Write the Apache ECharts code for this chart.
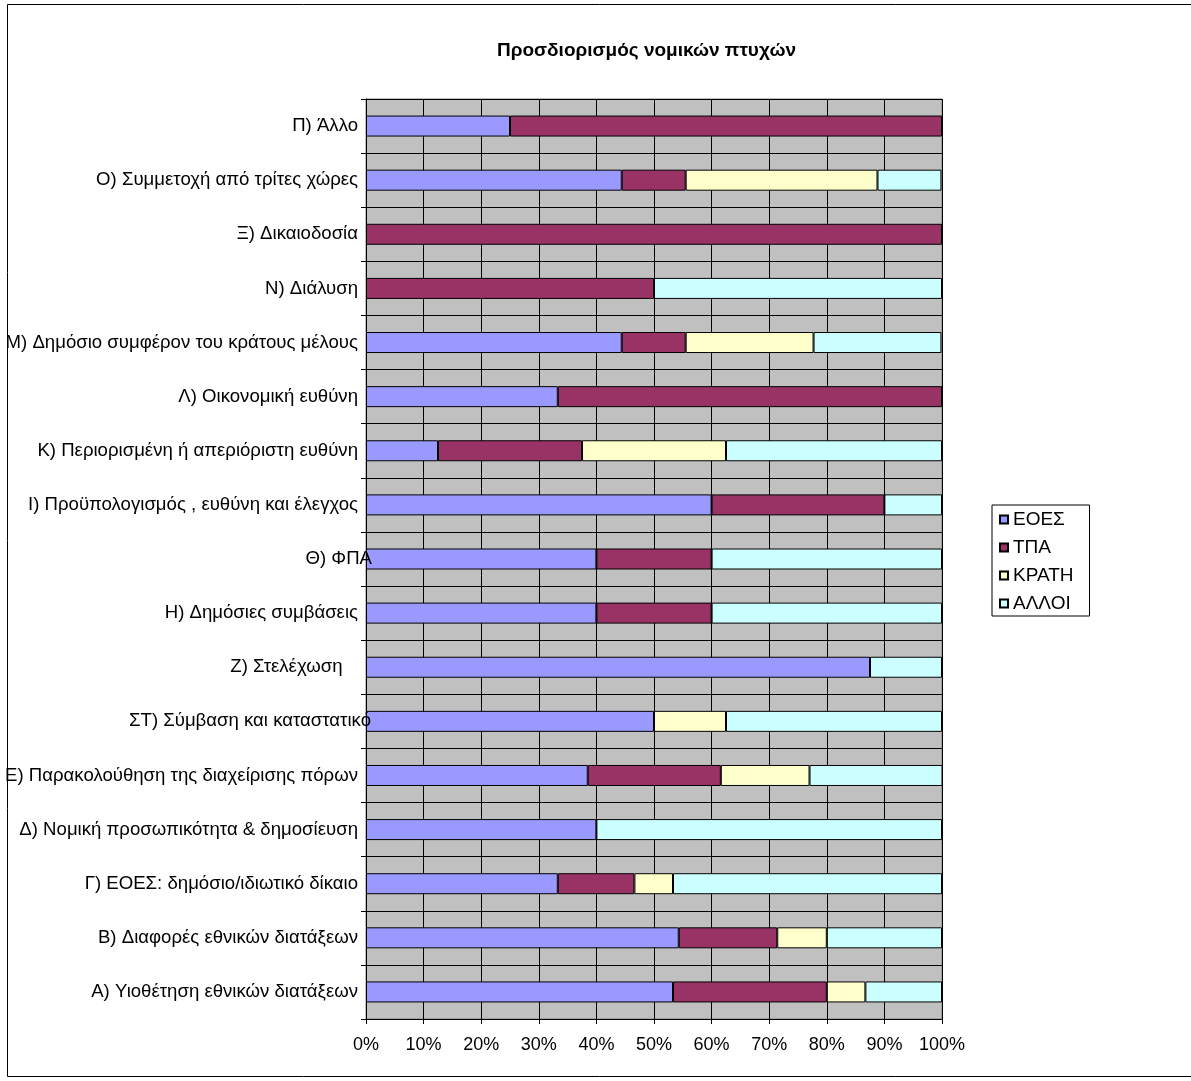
<!DOCTYPE html>
<html>
<head>
<meta charset="utf-8">
<script src="https://cdn.jsdelivr.net/npm/echarts@6/dist/echarts.min.js"></script>
<style>
html, body { margin: 0; padding: 0; background: #fff; }
#chart { width: 1191px; height: 1081px; }
</style>
</head>
<body>
<div id="chart"></div>
<script>
// categories bottom -> top
var categories = [
	'Α) Υιοθέτηση εθνικών διατάξεων',
	'Β) Διαφορές εθνικών διατάξεων',
	'Γ) ΕΟΕΣ: δημόσιο/ιδιωτικό δίκαιο',
	'Δ) Νομική προσωπικότητα & δημοσίευση',
	'Ε) Παρακολούθηση της διαχείρισης πόρων',
	'ΣΤ) Σύμβαση και καταστατικό',
	'Ζ) Στελέχωση   ',
	'Η) Δημόσιες συμβάσεις',
	'Θ) ΦΠΑ',
	'Ι) Προϋπολογισμός , ευθύνη και έλεγχος',
	'Κ) Περιορισμένη ή απεριόριστη ευθύνη',
	'Λ) Οικονομική ευθύνη',
	'Μ) Δημόσιο συμφέρον του κράτους μέλους',
	'Ν) Διάλυση',
	'Ξ) Δικαιοδοσία',
	'Ο) Συμμετοχή από τρίτες χώρες',
	'Π) Άλλο'
];
var seriesNames = ['ΕΟΕΣ', 'ΤΠΑ', 'ΚΡΑΤΗ', 'ΑΛΛΟΙ'];
var eoes   = [53.3, 54.3, 33.3, 40, 38.5, 50, 87.5, 40, 40, 60, 12.5, 33.3, 44.4, 0, 0, 44.4, 25];
var tpa    = [26.7, 17.1, 13.3, 0, 23.1, 0, 0, 20, 20, 30, 25, 66.7, 11.1, 50, 100, 11.1, 75];
var krath  = [6.7, 8.6, 6.7, 0, 15.4, 12.5, 0, 0, 0, 0, 25, 0, 22.2, 0, 0, 33.3, 0];
var alloi  = [13.3, 20, 46.7, 60, 23.1, 37.5, 12.5, 40, 40, 10, 37.5, 0, 22.2, 50, 0, 11.1, 0];
var colors = ['#9999FF', '#993366', '#FFFFCC', '#CCFFFF'];

var chart = echarts.init(document.getElementById('chart'));
var font = 'Liberation Sans, Arial, sans-serif';

// a couple of labels spill over the axis in the original
var catData = categories.map(function(c) {
	if (c.indexOf('Θ)') === 0) return { value: c, textStyle: { padding: [0, -14, 0, 0] } };
	if (c.indexOf('ΣΤ)') === 0) return { value: c, textStyle: { padding: [0, -13, 0, 0] } };
	return c;
});

function toSeries(name, arr, i) {
	return {
		name: name,
		type: 'bar',
		stack: 'total',
		barWidth: 21,
		data: arr.map(function(v) { return v === 0 ? '-' : v; }),
		itemStyle: { color: colors[i], borderColor: '#000', borderWidth: 1 },
		emphasis: { disabled: true }
	};
}

var option = {
	backgroundColor: '#fff',
	animation: false,
	textStyle: { fontFamily: font },
	title: {
		text: 'Προσδιορισμός νομικών πτυχών',
		left: 497,
		top: 41,
		padding: 0,
		textStyle: { fontSize: 19, fontWeight: 'bold', color: '#000', fontFamily: font }
	},
	graphic: [{
		type: 'rect',
		shape: { x: 7.5, y: 4.5, width: 1200, height: 1072 },
		style: { fill: 'none', stroke: '#000', lineWidth: 1 },
		silent: true
	}],
	legend: {
		data: seriesNames,
		orient: 'vertical',
		left: 992,
		top: 505,
		padding: [5, 16, 3, 7],
		itemGap: 9,
		itemWidth: 8,
		itemHeight: 8,
		icon: 'rect',
		borderColor: '#000',
		borderWidth: 1,
		textStyle: { fontSize: 19, color: '#000', fontFamily: font }
	},
	grid: {
		left: 366,
		right: 249,
		top: 99,
		bottom: 62,
		containLabel: false,
		outerBoundsMode: 'none',
		show: true,
		backgroundColor: '#C0C0C0',
		borderColor: '#808080',
		borderWidth: 1
	},
	xAxis: {
		type: 'value',
		min: 0,
		max: 100,
		interval: 10,
		axisLine: { show: true, lineStyle: { color: '#000' } },
		axisTick: { show: true, length: 5, lineStyle: { color: '#000' } },
		splitLine: { show: true, lineStyle: { color: '#000', width: 1 } },
		axisLabel: { fontSize: 18, color: '#000', margin: 17, formatter: '{value}%' }
	},
	yAxis: {
		type: 'category',
		data: catData,
		z: 5,
		axisLine: { show: true, lineStyle: { color: '#000' } },
		axisTick: { show: true, length: 5, lineStyle: { color: '#000' } },
		splitLine: { show: true, lineStyle: { color: '#000', width: 1 } },
		axisLabel: { fontSize: 18.6, color: '#000', margin: 8 }
	},
	series: [
		toSeries(seriesNames[0], eoes, 0),
		toSeries(seriesNames[1], tpa, 1),
		toSeries(seriesNames[2], krath, 2),
		toSeries(seriesNames[3], alloi, 3)
	]
};

chart.setOption(option);
</script>
</body>
</html>
